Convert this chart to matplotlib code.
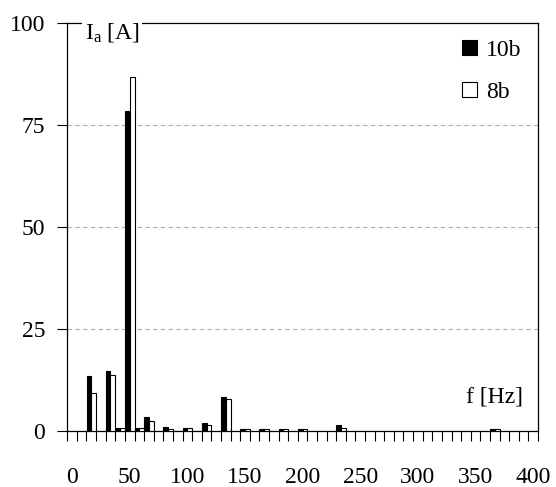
import matplotlib
matplotlib.use("Agg")
import matplotlib.pyplot as plt
import numpy as np

plt.rcParams['font.family'] = ['Liberation Serif', 'DejaVu Serif']
plt.rcParams['mathtext.fontset'] = 'custom'
plt.rcParams['mathtext.rm'] = 'Liberation Serif'
plt.rcParams['mathtext.it'] = 'Liberation Serif:italic'

# 谐波频率 (Hz) 与两组电流幅值 (A)
freq_hz = [16.7, 33.3, 41.7, 50.0, 58.3, 66.7, 83.3, 100.0, 116.7,
           133.3, 150.0, 166.7, 183.3, 200.0, 233.3, 366.7]
current_10b = [13.3, 14.6, 0.6, 78.4, 0.6, 3.4, 1.0, 0.6, 2.0,
               8.3, 0.5, 0.5, 0.5, 0.5, 1.5, 0.5]
current_8b = [9.2, 13.7, 0.6, 86.7, 0.6, 2.3, 0.5, 0.6, 1.4,
              7.8, 0.5, 0.4, 0.4, 0.4, 0.6, 0.5]
labels = ['10b', '8b']
x_ticks = [0, 50, 100, 150, 200, 250, 300, 350, 400]
y_ticks = [0, 25, 50, 75, 100]

step = 50 / 6          # 频率分辨率
w = step / 2

fig = plt.figure(figsize=(5.56, 4.87), dpi=100)
ax = fig.add_axes([0.121, 0.1156, 0.8466, 0.8372])

f = np.array(freq_hz)
ax.bar(f - w / 2, current_10b, width=w, color='black', edgecolor='black',
       linewidth=0.8, label=labels[0], zorder=3)
ax.bar(f + w / 2, current_8b, width=w, color='white', edgecolor='black',
       linewidth=0.8, label=labels[1], zorder=3)

ax.set_xlim(-step / 2, 400 + step / 2)
ax.set_ylim(0, 100)

# 网格线
for v in y_ticks[1:-1]:
    ax.axhline(v, color='#b0b0b0', lw=0.8, dashes=(4, 3), zorder=1)

ax.set_xticks(x_ticks)
ax.set_xticks(np.arange(-step / 2, 400 + step, step), minor=True)
ax.tick_params(axis='x', which='major', length=0, pad=26, labelsize=17)
ax.tick_params(axis='x', which='minor', length=7, width=0.8, direction='out')
ax.set_yticks(y_ticks)
ax.tick_params(axis='y', which='major', length=7, width=0.8, pad=9, labelsize=17)

for s in ax.spines.values():
    s.set_linewidth(0.9)

ax.text(0.037, 96.3, r'I$_{\rm a}$ [A]', transform=ax.get_yaxis_transform(),
        fontsize=17, va='baseline', ha='left', zorder=5,
        bbox=dict(facecolor='white', edgecolor='none', pad=2))
ax.text(0.968, 0.068, 'f [Hz]', transform=ax.transAxes, fontsize=17,
        va='baseline', ha='right')

ax.legend(loc='upper right', bbox_to_anchor=(1.0, 1.0), frameon=False,
          fontsize=17, handlelength=0.6, handleheight=0.6,
          handletextpad=0.4, labelspacing=0.9, borderaxespad=0.3)

fig.savefig('out.png', dpi=100)
